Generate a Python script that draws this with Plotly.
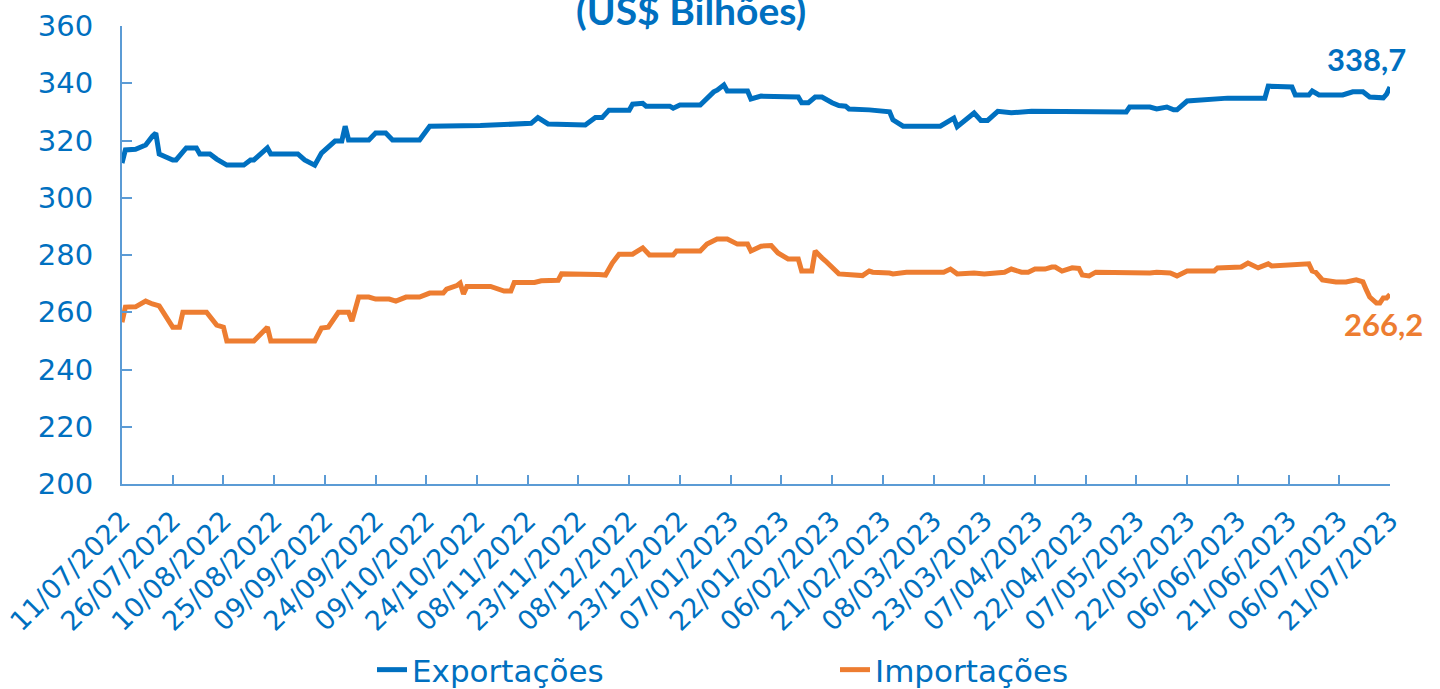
import plotly.graph_objects as go

# ---------------- data ----------------
exp_dates = ["2022-07-11","2022-07-12","2022-07-15","2022-07-18","2022-07-20","2022-07-21","2022-07-22","2022-07-26","2022-07-27","2022-07-30",
             "2022-08-02","2022-08-03","2022-08-06","2022-08-08","2022-08-11","2022-08-16","2022-08-18","2022-08-19","2022-08-23","2022-08-24",
             "2022-09-01","2022-09-03","2022-09-06","2022-09-08","2022-09-12","2022-09-14","2022-09-15","2022-09-16","2022-09-22","2022-09-24",
             "2022-09-27","2022-09-29","2022-10-07","2022-10-10","2022-10-25","2022-11-02","2022-11-09","2022-11-11","2022-11-14","2022-11-25",
             "2022-11-28","2022-11-30","2022-12-02","2022-12-08","2022-12-09","2022-12-12","2022-12-13","2022-12-20","2022-12-21","2022-12-23",
             "2022-12-29","2023-01-02","2023-01-03","2023-01-05","2023-01-06","2023-01-12","2023-01-13","2023-01-16","2023-01-20","2023-01-21",
             "2023-01-27","2023-01-28","2023-01-30","2023-02-01","2023-02-03","2023-02-06","2023-02-08","2023-02-10","2023-02-11","2023-02-17",
             "2023-02-23","2023-02-24","2023-02-27","2023-03-10","2023-03-14","2023-03-15","2023-03-17","2023-03-20","2023-03-22","2023-03-24",
             "2023-03-27","2023-03-31","2023-04-06","2023-04-12","2023-04-14","2023-04-18","2023-04-23","2023-05-04","2023-05-05","2023-05-11",
             "2023-05-13","2023-05-16","2023-05-18","2023-05-19","2023-05-22","2023-06-01","2023-06-03","2023-06-14","2023-06-15","2023-06-22",
             "2023-06-23","2023-06-27","2023-06-28","2023-06-30","2023-07-07","2023-07-10","2023-07-13","2023-07-15","2023-07-19","2023-07-20",
             "2023-07-21"]
exp_vals = [312.1,316.7,316.9,318.4,321.5,322.6,315.3,313.2,313.2,317.4,
            317.4,315.3,315.3,313.5,311.4,311.4,313.2,313.2,317.4,315.3,
            315.3,313.2,311.4,315.6,319.8,319.8,325.0,320.2,320.2,322.6,
            322.6,320.2,320.2,325.0,325.2,325.4,326.0,328.0,325.8,325.4,
            328.0,328.0,330.6,330.6,332.7,333.0,332.0,332.0,331.3,332.4,
            332.4,337.0,337.6,339.4,337.3,337.3,334.5,335.5,335.5,335.2,
            335.2,333.2,333.2,335.2,335.2,333.2,332.2,332.0,331.0,330.7,
            330.0,327.2,325.0,325.0,327.8,324.8,326.8,329.6,327.0,327.0,
            330.2,329.7,330.2,330.2,329.9,330.2,330.0,330.0,331.7,331.7,
            331.0,331.7,330.7,330.7,333.8,334.5,334.8,334.8,339.0,338.7,
            335.9,335.9,337.3,335.9,335.9,337.0,337.0,335.2,334.9,336.2,
            338.7]

imp_dates = ["2022-07-11","2022-07-12","2022-07-15","2022-07-18","2022-07-20","2022-07-22","2022-07-26","2022-07-28","2022-07-29","2022-08-05",
             "2022-08-08","2022-08-10","2022-08-11","2022-08-19","2022-08-23","2022-08-24","2022-09-06","2022-09-08","2022-09-10","2022-09-13",
             "2022-09-16","2022-09-17","2022-09-19","2022-09-22","2022-09-24","2022-09-28","2022-09-30","2022-10-03","2022-10-07","2022-10-10",
             "2022-10-14","2022-10-15","2022-10-18","2022-10-19","2022-10-20","2022-10-21","2022-10-28","2022-11-01","2022-11-03","2022-11-04",
             "2022-11-10","2022-11-12","2022-11-17","2022-11-18","2022-11-29","2022-12-01","2022-12-03","2022-12-05","2022-12-09","2022-12-12",
             "2022-12-14","2022-12-21","2022-12-22","2022-12-29","2022-12-31","2023-01-03","2023-01-06","2023-01-09","2023-01-12","2023-01-13",
             "2023-01-16","2023-01-19","2023-01-21","2023-01-24","2023-01-27","2023-01-28","2023-01-31","2023-02-01","2023-02-03","2023-02-04",
             "2023-02-08","2023-02-15","2023-02-17","2023-02-18","2023-02-23","2023-02-24","2023-02-28","2023-03-11","2023-03-13","2023-03-15",
             "2023-03-20","2023-03-23","2023-03-29","2023-03-31","2023-04-03","2023-04-05","2023-04-07","2023-04-10","2023-04-12","2023-04-13",
             "2023-04-15","2023-04-18","2023-04-20","2023-04-21","2023-04-23","2023-04-25","2023-05-11","2023-05-13","2023-05-17","2023-05-19",
             "2023-05-22","2023-05-30","2023-05-31","2023-06-07","2023-06-09","2023-06-12","2023-06-15","2023-06-16","2023-06-27","2023-06-28",
             "2023-06-29","2023-07-01","2023-07-05","2023-07-08","2023-07-11","2023-07-13","2023-07-14","2023-07-15","2023-07-17","2023-07-18",
             "2023-07-19","2023-07-20","2023-07-21"]
imp_vals = [256.5,261.8,261.9,263.9,262.9,262.2,254.8,254.8,260.0,260.0,
            255.5,254.8,250.0,250.0,254.8,250.0,250.0,254.5,254.8,260.0,
            260.0,256.9,265.3,265.3,264.6,264.6,263.9,265.3,265.3,266.7,
            266.7,268.1,269.3,270.2,266.4,269.0,269.0,267.4,267.4,270.4,
            270.4,271.0,271.2,273.4,273.2,273.0,277.2,280.3,280.3,282.5,
            280.0,280.0,281.4,281.4,283.8,285.6,285.6,283.8,283.8,281.4,
            283.1,283.3,280.7,278.6,278.6,274.4,274.4,281.4,279.0,278.0,
            273.4,272.8,274.4,274.0,273.7,273.4,274.0,274.0,275.1,273.4,
            273.7,273.4,274.0,275.1,274.0,274.0,275.1,275.1,275.8,275.8,
            274.4,275.5,275.3,273.0,272.7,274.0,273.7,274.0,273.7,272.7,
            274.4,274.4,275.5,275.8,277.2,275.5,276.9,276.2,276.9,274.4,
            274.0,271.3,270.6,270.6,271.3,270.6,267.8,265.3,263.2,263.2,
            265.0,265.0,266.2]

tick_dates = ["2022-07-11","2022-07-26","2022-08-10","2022-08-25","2022-09-09","2022-09-24","2022-10-09","2022-10-24",
              "2022-11-08","2022-11-23","2022-12-08","2022-12-23","2023-01-07","2023-01-22","2023-02-06","2023-02-21",
              "2023-03-08","2023-03-23","2023-04-07","2023-04-22","2023-05-07","2023-05-22","2023-06-06","2023-06-21",
              "2023-07-06","2023-07-21"]
tick_labels = ["11/07/2022","26/07/2022","10/08/2022","25/08/2022","09/09/2022","24/09/2022","09/10/2022","24/10/2022",
               "08/11/2022","23/11/2022","08/12/2022","23/12/2022","07/01/2023","22/01/2023","06/02/2023","21/02/2023",
               "08/03/2023","23/03/2023","07/04/2023","22/04/2023","07/05/2023","22/05/2023","06/06/2023","21/06/2023",
               "06/07/2023","21/07/2023"]

y_ticks = [200, 220, 240, 260, 280, 300, 320, 340, 360]

BLUE = "#0070C0"
ORANGE = "#ED7D31"
AXIS = "#5B9BD5"
FONT = "DejaVu Sans"
BOLD = "Lato"

fig = go.Figure()
fig.add_trace(go.Scatter(x=exp_dates, y=exp_vals, mode="lines", name="Exportações",
                         line=dict(color=BLUE, width=5), cliponaxis=False))
fig.add_trace(go.Scatter(x=imp_dates, y=imp_vals, mode="lines", name="Importações",
                         line=dict(color=ORANGE, width=5), cliponaxis=False))

fig.add_annotation(x=exp_dates[-1], y=exp_vals[-1], xref="x", yref="y",
                   text="<b>338,7</b>", showarrow=False, xshift=-24, yshift=28,
                   font=dict(family=BOLD, size=31, color=BLUE))
fig.add_annotation(x=imp_dates[-1], y=imp_vals[-1], xref="x", yref="y",
                   text="<b>266,2</b>", showarrow=False, xshift=-7, yshift=-29,
                   font=dict(family=BOLD, size=31, color=ORANGE))

fig.add_annotation(x=(691 - 122) / 1268, y=1, xref="paper", yref="paper", xanchor="center", yanchor="bottom",
                   yshift=-9, text="<b>(US$ Bilhões)</b>", showarrow=False,
                   font=dict(family=BOLD, size=39, color=BLUE))

fig.update_layout(
    width=1440, height=689,
    margin=dict(l=122, r=50, t=26, b=205, autoexpand=False),
    paper_bgcolor="white", plot_bgcolor="white",
    font=dict(family=FONT, color=BLUE),
    showlegend=True,
    legend=dict(orientation="h", xref="container", yref="container",
                x=372 / 1440, xanchor="left", y=1 - 670 / 689, yanchor="middle",
                font=dict(family=FONT, size=31, color=BLUE),
                entrywidth=418, entrywidthmode="pixels", bgcolor="rgba(0,0,0,0)"),
)
fig.update_xaxes(type="date", range=["2022-07-11", "2023-07-21"], automargin=False,
                 tickvals=tick_dates, ticktext=tick_labels, tickangle=-45,
                 tickfont=dict(family=FONT, size=27, color=BLUE),
                 ticklabelstandoff=8,
                 showline=True, linecolor=AXIS, linewidth=2,
                 ticks="inside", ticklen=9, tickcolor=AXIS, tickwidth=2,
                 showgrid=False, zeroline=False)
fig.update_yaxes(range=[200, 360], tickvals=y_ticks, automargin=False,
                 tickfont=dict(family=FONT, size=29, color=BLUE),
                 ticklabelstandoff=21,
                 showline=True, linecolor=AXIS, linewidth=2,
                 ticks="inside", ticklen=10, tickcolor=AXIS, tickwidth=2,
                 showgrid=False, zeroline=False)

fig.write_html("out.html", config={"displayModeBar": False},
               post_script="document.body.style.margin='0';document.body.style.overflow='hidden';")
